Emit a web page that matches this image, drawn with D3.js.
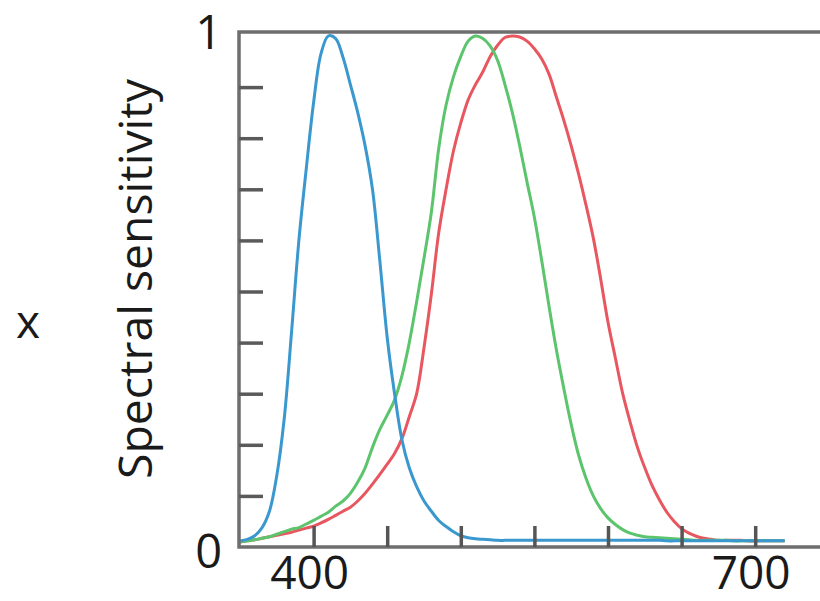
<!DOCTYPE html>
<html>
<head>
<meta charset="utf-8">
<script src="https://cdn.jsdelivr.net/npm/d3@7"></script>
<style>
  body { margin: 0; background: #fff; }
  svg { display: block; }
</style>
</head>
<body>
<svg id="chart" width="820" height="601"></svg>
<script>
// wavelength grid (nm), 5 nm steps
const wavelengths = d3.range(350, 721, 5);

const blueValues = [
  0.012, 0.015, 0.022, 0.038, 0.07, 0.14, 0.25, 0.42, 0.60, 0.74,
  0.87, 0.965, 1.0, 0.995, 0.958, 0.905, 0.85, 0.785, 0.70, 0.56,
  0.41, 0.30, 0.21, 0.155, 0.118, 0.09, 0.07, 0.052, 0.04, 0.03,
  0.022, 0.018, 0.016, 0.015, 0.014, 0.013, 0.013, 0.013, 0.013, 0.013,
  0.013, 0.013, 0.013, 0.013, 0.013, 0.013, 0.013, 0.013, 0.013, 0.013,
  0.013, 0.013, 0.013, 0.013, 0.013, 0.013, 0.013, 0.013, 0.012, 0.012,
  0.012, 0.012, 0.012, 0.012, 0.012, 0.012, 0.012, 0.012, 0.012, 0.012,
  0.012, 0.012, 0.012, 0.012, 0.012
];

const greenValues = [
  0.01, 0.012, 0.014, 0.017, 0.02, 0.025, 0.03, 0.035, 0.038, 0.045,
  0.052, 0.06, 0.068, 0.08, 0.09, 0.105, 0.127, 0.155, 0.195, 0.23,
  0.258, 0.288, 0.335, 0.40, 0.48, 0.565, 0.655, 0.78, 0.865, 0.92,
  0.96, 0.99, 1.0, 0.995, 0.98, 0.952, 0.905, 0.85, 0.785, 0.714,
  0.645, 0.56, 0.47, 0.385, 0.31, 0.24, 0.18, 0.135, 0.10, 0.075,
  0.057, 0.044, 0.034, 0.027, 0.023, 0.02, 0.019, 0.018, 0.017, 0.016,
  0.015, 0.014, 0.013, 0.013, 0.013, 0.013, 0.013, 0.012, 0.012, 0.012,
  0.012, 0.012, 0.012, 0.012, 0.012
];

const redValues = [
  0.01, 0.012, 0.014, 0.017, 0.02, 0.023, 0.026, 0.029, 0.033, 0.037,
  0.041, 0.047, 0.054, 0.062, 0.07, 0.078, 0.09, 0.105, 0.123, 0.142,
  0.162, 0.183, 0.212, 0.255, 0.30, 0.39, 0.495, 0.615, 0.70, 0.775,
  0.83, 0.875, 0.905, 0.93, 0.96, 0.982, 0.997, 1.0, 0.998, 0.99,
  0.975, 0.955, 0.925, 0.88, 0.835, 0.785, 0.73, 0.67, 0.605, 0.525,
  0.44, 0.37, 0.30, 0.245, 0.195, 0.155, 0.12, 0.092, 0.068, 0.05,
  0.036, 0.027, 0.021, 0.017, 0.015, 0.013, 0.013, 0.013, 0.013, 0.012,
  0.012, 0.012, 0.012, 0.012, 0.012
];

const xTicks = [400, 450, 500, 550, 600, 650, 700];
const xLabels = [400, 700];
const yTicks = [0.1, 0.2, 0.3, 0.4, 0.5, 0.6, 0.7, 0.8, 0.9];
const yLabels = [0, 1];

const series = [
  { name: 'L', values: redValues, color: '#e8575f' },
  { name: 'M', values: greenValues, color: '#5cc46c' },
  { name: 'S', values: blueValues, color: '#3a98cf' }
];

const svg = d3.select('#chart');
const font = '"Open Sans", "Noto Sans", sans-serif';

const plotLeft = 239, plotTop = 32, plotBottom = 547;

const x = d3.scaleLinear().domain([350, 750]).range([240, 828.8]);
const y = d3.scaleLinear().domain([0, 1]).range([plotBottom, 36]);

// curves
const line = d3.line()
  .x((d, i) => x(wavelengths[i]))
  .y(d => y(d))
  .curve(d3.curveCatmullRom.alpha(0.5));

svg.selectAll('.curve')
  .data(series)
  .enter().append('path')
  .attr('class', 'curve')
  .attr('d', d => line(d.values))
  .attr('fill', 'none')
  .attr('stroke', d => d.color)
  .attr('stroke-width', 3);

// frame: left, top and bottom lines
svg.append('path')
  .attr('d', `M820,${plotTop}H${plotLeft}V${plotBottom}H820`)
  .attr('fill', 'none')
  .attr('stroke', '#6e6e6e')
  .attr('stroke-width', 3.5);

// x axis ticks (inward)
const xAxis = svg.append('g')
  .attr('transform', `translate(0,${plotBottom})`)
  .call(d3.axisBottom(x).tickValues(xTicks).tickSize(-21).tickFormat(''));
xAxis.select('.domain').remove();
xAxis.selectAll('line').attr('stroke', '#555').attr('stroke-width', 3.5);

// y axis ticks (inward)
const yAxis = svg.append('g')
  .attr('transform', `translate(${plotLeft},0)`)
  .call(d3.axisLeft(y).tickValues(yTicks).tickSize(-24).tickFormat(''));
yAxis.select('.domain').remove();
yAxis.selectAll('line').attr('stroke', '#5a5a5a').attr('stroke-width', 3.5);

// labels
svg.selectAll('.xlabel')
  .data(xLabels)
  .enter().append('text')
  .attr('class', 'xlabel')
  .attr('x', d => x(d) - 4)
  .attr('y', 589)
  .attr('text-anchor', 'middle')
  .attr('font-family', font)
  .attr('font-size', 46)
  .attr('fill', '#1a1a1a')
  .text(d => d);

svg.selectAll('.ylabel')
  .data(yLabels)
  .enter().append('text')
  .attr('class', 'ylabel')
  .attr('x', 222)
  .attr('y', d => y(d) + (d === 0 ? 21 : 13))
  .attr('text-anchor', 'end')
  .attr('font-family', font)
  .attr('font-size', 47)
  .attr('fill', '#1a1a1a')
  .text(d => d);

svg.append('text')
  .attr('transform', 'translate(152,279) rotate(-90)')
  .attr('text-anchor', 'middle')
  .attr('font-family', font)
  .attr('font-size', 46)
  .attr('textLength', 400)
  .attr('lengthAdjust', 'spacingAndGlyphs')
  .attr('fill', '#1a1a1a')
  .text('Spectral sensitivity');

svg.append('text')
  .attr('x', 28)
  .attr('y', 338)
  .attr('text-anchor', 'middle')
  .attr('font-family', font)
  .attr('font-size', 46)
  .attr('fill', '#1a1a1a')
  .text('x');
</script>
</body>
</html>
